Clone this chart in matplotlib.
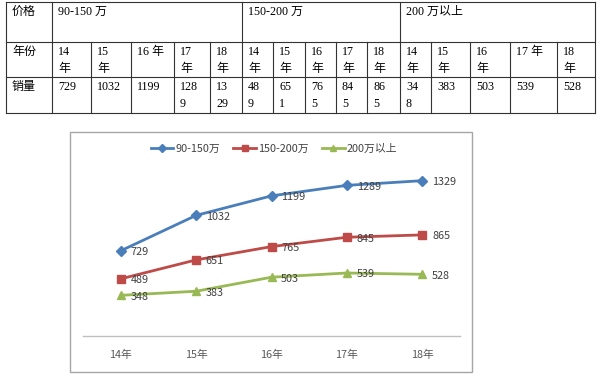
import matplotlib
matplotlib.use("Agg")
import matplotlib.pyplot as plt
from matplotlib.lines import Line2D
from matplotlib.patches import Rectangle

# data
years = ["14年", "15年", "16年", "17年", "18年"]
groups = ["90-150万", "150-200万", "200万以上"]
table_groups = ["90-150 万", "150-200 万", "200 万以上"]
sales_90_150 = [729, 1032, 1199, 1289, 1329]
sales_150_200 = [489, 651, 765, 845, 865]
sales_200_up = [348, 383, 503, 539, 528]
row_heads = ["价格", "年份", "销量"]

series = [sales_90_150, sales_150_200, sales_200_up]
colors = ["#4A7EBB", "#BE4B48", "#98B954"]
markers = ["D", "s", "^"]
msizes = [5, 5.5, 6]

W, H = 600, 380
fig = plt.figure(figsize=(W / 100, H / 100), dpi=100)
fig.patch.set_facecolor("white")

# full-figure pixel canvas for the table
cv = fig.add_axes([0, 0, 1, 1])
cv.set_xlim(0, W)
cv.set_ylim(H, 0)
cv.axis("off")

tfont = ["Liberation Serif", "Noto Sans CJK SC"]
fpx = 12  # table font size in px
fpt = fpx * 72 / 100

# table grid
rows_y = [2, 42, 77, 113]
col_x = [6, 52, 91, 131, 174, 210, 242, 273, 305, 336, 367, 400,
         431, 470, 510, 557, 595]
group_x = [52, 242, 400, 595]


def text_w(s):
    w = 0
    for c in s:
        if c.isdigit() or c == "-":
            w += 0.5 * fpx
        elif c == " ":
            w += 0.25 * fpx
        else:
            w += 1.0 * fpx
    return w


def wrap(s, width, pad=15.1):
    lines, cur = [], ""
    for c in s:
        if cur and text_w(cur + c) > width - pad:
            lines.append(cur.strip())
            cur = c
        else:
            cur += c
    lines.append(cur.strip())
    return [l for l in lines if l]


def cell_text(x0, x1, y0, s):
    for i, line in enumerate(wrap(s, x1 - x0)):
        cv.text(x0 + 6, y0 + 4 + i * 17, line, fontsize=fpt, family=tfont,
                va="top", ha="left", color="black")


lc = "#333333"
for y in rows_y:
    cv.add_line(Line2D([col_x[0], col_x[-1]], [y, y], color=lc, lw=0.8))
cv.add_line(Line2D([col_x[0]] * 2, [rows_y[0], rows_y[-1]], color=lc, lw=0.8))
for x in group_x:
    cv.add_line(Line2D([x, x], [rows_y[0], rows_y[-1]], color=lc, lw=0.8))
for x in col_x[1:-1]:
    if x not in group_x:
        cv.add_line(Line2D([x, x], [rows_y[1], rows_y[-1]], color=lc, lw=0.8))

for i, head in enumerate(row_heads):
    cell_text(col_x[0], col_x[1], rows_y[i], head)
for g, name in enumerate(table_groups):
    cell_text(group_x[g], group_x[g + 1], rows_y[0], name)
    for k in range(5):
        x0, x1 = col_x[1 + g * 5 + k], col_x[2 + g * 5 + k]
        cell_text(x0, x1, rows_y[1], years[k].replace("年", " 年"))
        cell_text(x0, x1, rows_y[2], str(series[g][k]))

# chart frame
cv.add_patch(Rectangle((70, 132), 402, 240, fill=False, ec="#A6A6A6", lw=1))

cfont = ["Noto Sans CJK SC", "DejaVu Sans"]
ax_l, ax_r, ax_b, ax_t = 83, 460, 336, 149
ax = fig.add_axes([ax_l / W, 1 - ax_b / H, (ax_r - ax_l) / W, (ax_b - ax_t) / H])
ax.patch.set_alpha(0)
xs = range(len(years))
for vals, name, c, m, ms in zip(series, groups, colors, markers, msizes):
    ax.plot(xs, vals, color=c, lw=2.0, marker=m, ms=ms, label=name)
    for x, v in zip(xs, vals):
        ax.annotate(str(v), (x, v), xytext=(7, -1), textcoords="offset points",
                    fontsize=7.8, family=cfont, color="#404040",
                    va="center", ha="left")

ax.set_xlim(-0.5, 4.5)
ax.set_ylim(0, 1600)
ax.set_xticks(list(xs))
ax.set_xticklabels(years, fontsize=7.8, family=cfont, color="#595959")
ax.set_yticks([])
ax.tick_params(axis="x", length=0, pad=10)
for s in ["top", "right", "left"]:
    ax.spines[s].set_visible(False)
ax.spines["bottom"].set_color("#BFBFBF")
ax.spines["bottom"].set_linewidth(1)

fig.legend(loc="center", bbox_to_anchor=(274 / W, 1 - 149 / H), ncol=3,
           frameon=False, prop={"family": cfont, "size": 7.8},
           handlelength=2.1, handletextpad=0.2, columnspacing=1.2,
           labelcolor="#404040", markerscale=0.8)

fig.savefig("out.png", dpi=100)
